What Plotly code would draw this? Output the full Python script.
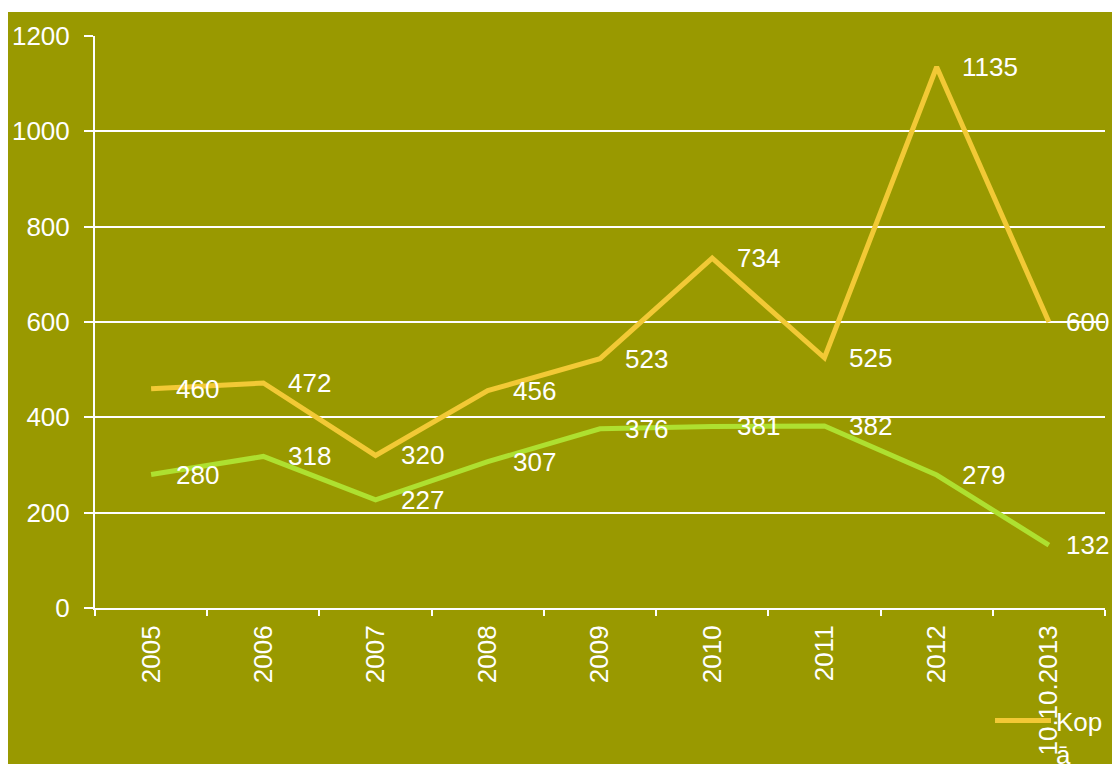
import plotly.graph_objects as go

years = ["2005", "2006", "2007", "2008", "2009", "2010", "2011", "2012", "10.10.2013"]
kopa = [460, 472, 320, 456, 523, 734, 525, 1135, 600]
second = [280, 318, 227, 307, 376, 381, 382, 279, 132]
y_ticks = [0, 200, 400, 600, 800, 1000, 1200]

OLIVE = "#999900"
YELLOW = "#F2C935"
GREEN = "#AEE030"
FONT = "Liberation Sans, Arial, sans-serif"
FS = 26

fig = go.Figure()
fig.add_trace(go.Scatter(x=years, y=kopa, mode="lines", name="Kop<br>ā",
                         line=dict(color=YELLOW, width=5)))
fig.add_trace(go.Scatter(x=years, y=second, mode="lines", name="",
                         line=dict(color=GREEN, width=5), showlegend=False))

annotations = []
for series in (kopa, second):
    for i, v in enumerate(series):
        annotations.append(dict(
            x=i, y=v, text=str(v), showarrow=False, xanchor="left",
            yanchor="middle", xshift=15 if i == len(years) - 1 else 23,
            font=dict(color="white", size=FS, family=FONT)))

L, R, T, B = 95, 7, 36, 156
W, H = 1112, 764
pw, ph = W - L - R, H - T - B

fig.update_layout(
    width=W, height=H,
    margin=dict(l=L, r=R, t=T, b=B, autoexpand=False),
    paper_bgcolor="white",
    plot_bgcolor=OLIVE,
    font=dict(family=FONT, size=FS, color="white"),
    annotations=annotations,
    shapes=[dict(type="rect", xref="paper", yref="paper", layer="below",
                 x0=(8 - L) / pw, x1=(W - L + 5) / pw,
                 y0=-(B + 5) / ph, y1=1 + (T - 12) / ph,
                 fillcolor=OLIVE, line=dict(width=0))],
    showlegend=True,
    legend=dict(x=(990 - L) / pw, xanchor="left", y=-(697 - T - ph) / ph,
                yanchor="top", bgcolor="rgba(0,0,0,0)", valign="top",
                itemwidth=56,
                font=dict(color="white", size=FS, family=FONT),
                tracegroupgap=0),
    xaxis=dict(type="category", range=[-0.5, len(years) - 0.5],
               showgrid=False, showline=True, linecolor="white", linewidth=2,
               ticks="outside", tickson="boundaries", ticklen=6,
               tickcolor="white", tickwidth=2, tickangle=-90,
               ticklabelstandoff=5,
               tickfont=dict(color="white", size=FS, family=FONT),
               zeroline=False, fixedrange=True),
    yaxis=dict(range=[0, 1200], tickvals=y_ticks, showgrid=True,
               gridcolor="white", gridwidth=2, showline=True,
               linecolor="white", linewidth=2, ticks="outside", ticklen=9,
               tickcolor="white", tickwidth=2, ticklabelstandoff=9,
               tickfont=dict(color="white", size=FS, family=FONT),
               zeroline=False, fixedrange=True),
)

fig.write_html("out.html",
               config={"displayModeBar": False},
               post_script="document.body.style.margin='0';"
                           "document.body.style.overflow='hidden';")
